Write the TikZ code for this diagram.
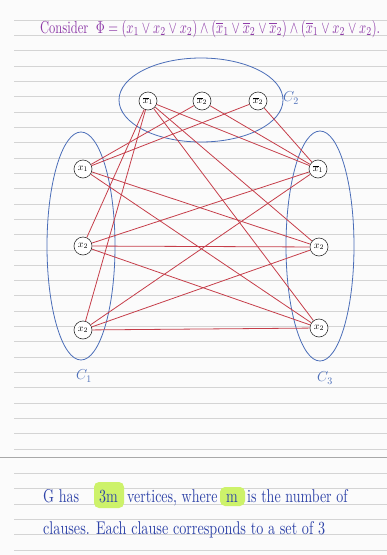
\documentclass[tikz,border=0pt]{standalone}
\usepackage{graphicx}
\definecolor{ruleln}{HTML}{D4D4D4}
\definecolor{sepln}{HTML}{A8A8A8}
\definecolor{paper}{HTML}{FBFBFB}
\definecolor{edgered}{HTML}{C63E4A}
\definecolor{ellblue}{HTML}{4A6DB8}
\definecolor{penpurple}{HTML}{8E3BA8}
\definecolor{penblue}{HTML}{2E43A8}
\definecolor{hilite}{HTML}{CDF26A}
\newcommand{\hw}[1]{\scalebox{1.4}[1.85]{#1}}
\begin{document}
\begin{tikzpicture}[x=1pt,y=-1pt,
  vtx/.style={circle,draw=black!80,fill=white,minimum size=18pt,inner sep=0pt,font=\normalsize,line width=0.6pt},
  cl/.style={draw=ellblue,line width=0.8pt},
  ed/.style={draw=edgered,line width=0.8pt},
  lab/.style={text=ellblue,font=\Large},
  bt/.style={anchor=base west,text=penblue,inner sep=0pt}]
\fill[paper] (0,0) rectangle (387,555);
\useasboundingbox (0,0) rectangle (387,555);
% ruled lines
\foreach \i in {0,...,28} \draw[ruleln,line width=0.6pt] (14,{20+\i*15.32}) -- (387,{20+\i*15.32});
\draw[sepln,line width=0.7pt] (0,457) -- (387,457);
\foreach \i in {0,...,5} \draw[ruleln,line width=0.6pt] (14,{473+\i*15.4}) -- (387,{473+\i*15.4});
% title
\node[anchor=base west,text=penpurple,inner sep=0pt] (title) at (40,33)
  {\resizebox{340pt}{13pt}{Consider $\;\Phi=(x_1\vee x_2\vee x_2)\wedge(\overline{x}_1\vee\overline{x}_2\vee\overline{x}_2)\wedge(\overline{x}_1\vee x_2\vee x_2)$.}};
% clause ellipses
\draw[cl] (201,100) ellipse [x radius=82, y radius=42];
\draw[cl] (81,246) ellipse [x radius=34, y radius=114];
\draw[cl] (320,246) ellipse [x radius=34, y radius=115];
\node[lab] (c2) at (291,98) {$C_2$};
\node[lab] (c1) at (84,376) {$C_1$};
\node[lab] (c3) at (325,378) {$C_3$};
% vertices
\node[vtx] (t1) at (148,101) {$\overline{x}_1$};
\node[vtx] (t2) at (202,101) {$\overline{x}_2$};
\node[vtx] (t3) at (258,101) {$\overline{x}_2$};
\node[vtx] (l1) at (83,169) {$x_1$};
\node[vtx] (l2) at (83,246) {$x_2$};
\node[vtx] (l3) at (83,330) {$x_2$};
\node[vtx] (r1) at (318,169) {$\overline{x}_1$};
\node[vtx] (r2) at (319,247) {$x_2$};
\node[vtx] (r3) at (319,328) {$x_2$};
% edges C1-C2
\draw[ed] (l1) -- (t2);
\draw[ed] (l1) -- (t3);
\draw[ed] (l2) -- (t1);
\draw[ed] (l3) -- (t1);
% edges C1-C3
\draw[ed] (l1) -- (r2);
\draw[ed] (l1) -- (r3);
\draw[ed] (l2) -- (r1);
\draw[ed] (l2) -- (r2);
\draw[ed] (l2) -- (r3);
\draw[ed] (l3) -- (r1);
\draw[ed] (l3) -- (r2);
\draw[ed] (l3) -- (r3);
% edges C2-C3
\draw[ed] (t1) -- (r1);
\draw[ed] (t1) -- (r2);
\draw[ed] (t1) -- (r3);
\draw[ed] (t2) -- (r1);
\draw[ed] (t3) -- (r1);
% highlights
\fill[hilite,rounded corners=5pt] (94,482) rectangle (124,508);
\fill[hilite,rounded corners=5pt] (220,487) rectangle (245,506);
% bottom text, line 1
\node[bt] (w1) at (43,502) {\hw{G has}};
\node[bt] (w2) at (99,502) {\hw{3m}};
\node[bt] (w3) at (127,502) {\hw{vertices, where}};
\node[bt] (w4) at (226,502) {\hw{m}};
\node[bt] (w5) at (247,502) {\hw{is the number of}};
% bottom text, line 2
\node[bt] (line2) at (43,534) {\resizebox{282pt}{13pt}{clauses. Each clause corresponds to a set of 3}};
\end{tikzpicture}
\end{document}
